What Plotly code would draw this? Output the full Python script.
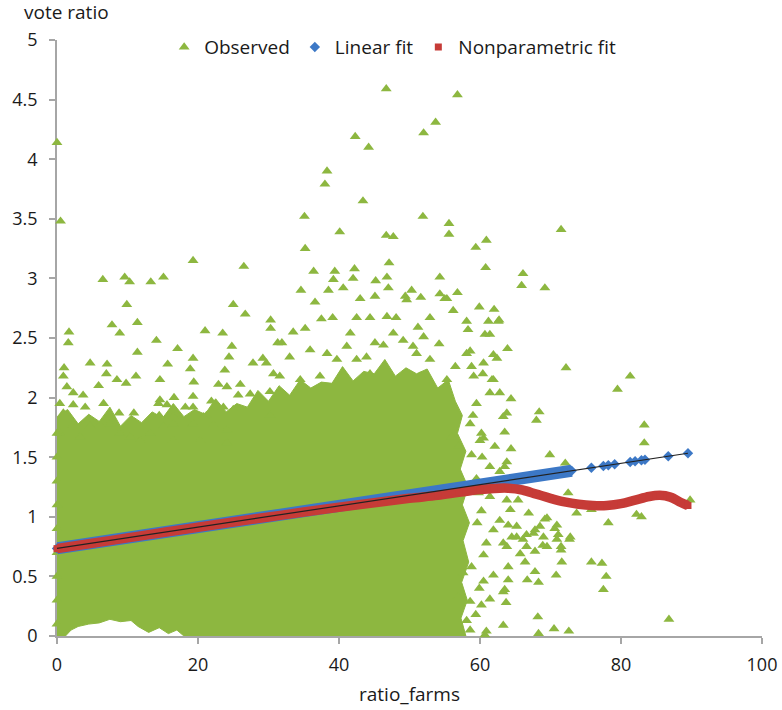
import plotly.graph_objects as go

# ---------------- data ----------------
# outline of the solid green mass formed by thousands of overlapping observations
core_x = [0, 0, 1.5, 3, 4.5, 6, 7.5, 9, 10.5, 12, 13.5, 15, 16.5, 18, 19.5, 21, 22.5, 24, 25.5, 27,
          28.5, 30, 31.5, 33, 34.5, 36, 37.5, 39, 40.5, 42, 43.5, 45, 46.5, 48, 49.5, 51, 52.5, 54,
          55.5, 56.5,
          57.5, 56.8, 58, 57.2, 58.3, 57.5, 58.5, 57.6, 58.4, 57.4, 58.2, 57.3, 58.0,
          18, 17, 15.8, 14.5, 13, 11.5, 10.5, 9, 7.5, 6, 4.5, 3, 2, 1.2, 0]
core_y = [0, 1.84, 1.90, 1.78, 1.86, 1.80, 1.92, 1.76, 1.85, 1.79, 1.88, 1.83, 1.95, 1.84, 1.90, 1.86,
          1.99, 1.88, 1.95, 1.92, 2.06, 1.97, 2.10, 2.02, 2.15, 2.08, 2.13, 2.12, 2.26, 2.14, 2.22, 2.20,
          2.32, 2.18, 2.25, 2.20, 2.24, 2.08, 2.15, 1.97,
          1.85, 1.70, 1.55, 1.40, 1.25, 1.10, 0.95, 0.80, 0.62, 0.45, 0.30, 0.15, 0.0,
          0.0, 0.05, 0.02, 0.07, 0.03, 0.08, 0.13, 0.12, 0.14, 0.11, 0.10, 0.08, 0.05, 0.0, 0]

# individual observed points visible outside / on the edge of the dense mass
obs_x = [0.0, 0.5, 19.3, 26.5, 6.5, 9.6, 10.3, 13.3, 15.1, 9.9, 25.0, 26.7, 30.3, 30.3, 7.8, 8.9, 11.4,
         1.7, 1.6, 14.1, 21.0, 23.5, 17.1, 11.4, 24.8, 24.4, 19.3, 15.7, 4.7, 7.1, 1.0, 0.9, 18.9, 23.8,
         29.2, 27.8, 31.3, 14.6, 11.2, 7.0, 8.5, 9.8, 5.9, 19.4, 22.9, 24.1, 26.0, 30.2, 30.7, 1.4, 2.3,
         3.7, 0.4, 14.6, 16.6, 19.3, 21.9, 25.7, 27.4, 6.6, 15.6, 18.2, 0.9, 8.8, 10.9, 14.5, 21.2, 23.6,
         30.2,
         2.3, 4.0, 14.4, 16.5, 19.3, 20.8, 25.0, 2.3, 4.7, 6.1, 7.5, 8.9, 10.4, 13.2, 15.1, 16.5, 19.3,
         22.2, 24.1, 0.4, 3.3, 11.8, 16.5, 20.3, 24.1,
         46.7, 56.8, 53.7, 52.0, 42.3, 44.2, 38.3, 38.0, 43.4, 35.1, 51.9, 55.6, 55.6, 40.1, 46.7, 47.7,
         35.2, 60.9, 59.4, 60.8, 47.1, 36.4, 39.4, 42.2, 54.3, 39.2, 42.0, 46.8, 45.2, 34.6, 38.5, 40.6,
         47.0, 50.3, 54.3, 56.8, 36.6, 43.0, 45.1, 49.6, 51.6, 55.0, 59.9, 62.0, 56.2, 37.5, 39.1, 42.5,
         44.4, 46.8, 48.1, 52.9, 58.1, 61.2, 62.6, 33.5, 35.2, 41.6, 47.7, 51.2, 52.0, 58.3, 60.7, 31.9,
         54.2, 63.9, 58.6, 61.9,
         35.9, 38.3, 39.7, 41.1, 42.5, 43.9, 45.1, 46.3, 49.1, 50.5, 51.0, 52.9, 56.5, 58.1, 60.5, 33.0,
         29.7, 31.6, 34.5, 37.3, 40.6, 44.4, 47.7, 51.5, 55.3, 59.1, 61.9,
         66.1, 65.9, 69.2, 71.5, 49.4, 55.3, 62.7, 61.4, 62.4, 58.8, 72.2, 81.3, 79.5, 60.4, 61.7, 64.4,
         62.8, 61.4, 68.4, 63.8,
         68.0, 83.3, 83.3, 69.9, 72.1, 63.3, 63.5, 60.2, 60.5, 58.6, 64.4, 62.1, 63.8, 63.5, 66.9, 73.7,
         75.8, 78.2, 82.2, 82.9, 89.8, 72.5, 65.4, 69.5, 68.5, 70.6, 69.0, 70.9, 72.8, 69.5,
         56.0, 57.0, 58.8, 60.0, 61.4, 62.8, 59.5, 61.4, 63.8, 64.3, 62.8, 65.2, 61.9, 64.5, 66.1, 63.3,
         60.9, 67.6, 66.6,
         69.2, 70.9, 71.1, 67.8, 66.6, 72.7, 68.9, 71.5, 71.5, 67.8, 66.4, 71.6, 75.8, 77.3, 77.9, 77.5,
         67.8, 66.7, 68.3, 70.8, 64.0, 63.5, 63.7, 63.3, 68.2, 68.3, 70.5, 72.6, 86.8, 64.0, 65.2, 63.8,
         65.7, 64.0,
         60.9, 60.7, 60.2, 61.4, 63.3, 61.9, 60.5, 58.6, 56.9, 58.1, 58.6, 57.6, 58.8,
         59.5, 59.0, 60.3, 59.8, 60.2, 59.6, 60.5, 59.9, 59.4,
         0.0, 0.0, 0.0, 0.0, 0.0, 0.0, 0.0, 0.0, 0.0]
obs_y = [4.14, 3.48, 3.15, 3.10, 2.99, 3.01, 2.97, 2.97, 3.01, 2.78, 2.78, 2.70, 2.65, 2.58, 2.61, 2.54, 2.63,
         2.55, 2.46, 2.48, 2.56, 2.54, 2.41, 2.38, 2.43, 2.34, 2.33, 2.28, 2.29, 2.28, 2.25, 2.18, 2.24, 2.23,
         2.33, 2.29, 2.46, 2.15, 2.18, 2.20, 2.15, 2.12, 2.10, 2.13, 2.11, 2.09, 2.11, 2.05, 2.20, 2.09, 2.04,
         2.02, 1.95, 1.98, 2.00, 2.01, 1.97, 2.02, 2.03, 1.95, 1.94, 1.92, 1.87, 1.87, 1.87, 1.85, 1.85, 1.92,
         1.85,
         1.94, 1.92, 1.95, 1.84, 1.92, 1.84, 1.90, 1.77, 1.76, 1.77, 1.78, 1.70, 1.67, 1.70, 1.76, 1.78, 1.78,
         1.77, 1.73, 1.70, 1.67, 1.64, 1.64, 1.64, 1.62,
         4.59, 4.54, 4.31, 4.22, 4.19, 4.10, 3.90, 3.79, 3.65, 3.52, 3.52, 3.46, 3.37, 3.39, 3.36, 3.35,
         3.25, 3.32, 3.26, 3.09, 3.13, 3.06, 3.06, 3.08, 3.01, 2.99, 3.00, 3.01, 2.98, 2.90, 2.90, 2.92,
         2.92, 2.90, 2.87, 2.88, 2.80, 2.83, 2.85, 2.82, 2.84, 2.83, 2.76, 2.74, 2.73, 2.66, 2.67, 2.67,
         2.67, 2.68, 2.67, 2.67, 2.64, 2.64, 2.64, 2.55, 2.58, 2.54, 2.54, 2.59, 2.51, 2.57, 2.53, 2.46,
         2.45, 2.41, 2.39, 2.36,
         2.40, 2.37, 2.32, 2.43, 2.32, 2.34, 2.46, 2.44, 2.48, 2.43, 2.37, 2.32, 2.26, 2.37, 2.29, 2.34,
         2.29, 2.18, 2.15, 2.18, 2.18, 2.20, 2.15, 2.18, 2.15, 2.18, 2.15,
         3.04, 2.94, 2.92, 3.41, 2.85, 2.83, 2.65, 2.53, 2.33, 2.26, 2.25, 2.18, 2.07, 2.20, 2.15, 1.99,
         2.04, 2.04, 1.88, 1.87,
         1.81, 1.77, 1.62, 1.52, 1.45, 1.84, 1.71, 1.70, 1.66, 1.78, 1.57, 1.59, 1.46, 1.42, 1.03, 1.03,
         1.06, 0.95, 1.02, 1.00, 1.14, 1.20, 1.14, 0.99, 0.92, 0.90, 0.83, 0.81, 0.83, 0.75,
         1.67, 1.59, 1.52, 1.64, 1.42, 1.38, 1.32, 1.17, 1.14, 1.06, 0.97, 0.92, 0.89, 0.83, 0.81, 0.78,
         0.78, 0.86, 0.75,
         0.98, 0.93, 0.85, 0.89, 0.85, 0.81, 0.76, 0.75, 0.72, 0.71, 0.62, 0.62, 0.62, 0.61, 0.50, 0.39,
         0.54, 0.47, 0.45, 0.51, 0.47, 0.39, 0.28, 0.09, 0.16, 0.02, 0.06, 0.04, 0.14, 0.93, 0.83, 0.75,
         0.69, 0.58,
         0.04, 0.01, 0.26, 0.31, 0.37, 0.51, 0.46, 0.29, 0.33, 0.13, 0.05, 0.53, 0.58,
         1.95, 1.85, 1.50, 1.20, 1.05, 0.95, 0.68, 0.40, 0.18,
         1.70, 1.50, 1.30, 1.10, 0.90, 0.70, 0.50, 0.30, 0.10]

# linear fit
lin_x = [0, 1, 3, 5, 8, 11, 14, 17, 20, 23, 26, 29, 32, 35, 38, 41, 44, 47, 50, 52, 54, 56, 58, 60,
         61.5, 63, 64.5, 66, 67.5, 69, 70.5, 72, 73, 75.8, 77.5, 78.2, 79.1, 81.3, 82.0, 82.9, 83.4, 86.7, 89.5]
lin_y = [0.735, 0.744, 0.762, 0.780, 0.806, 0.833, 0.860, 0.887, 0.913, 0.940, 0.967, 0.994, 1.020, 1.047,
         1.074, 1.101, 1.127, 1.154, 1.181, 1.199, 1.217, 1.235, 1.252, 1.270, 1.284, 1.297, 1.310, 1.324,
         1.337, 1.350, 1.364, 1.377, 1.386, 1.411, 1.426, 1.433, 1.441, 1.460, 1.466, 1.474, 1.479, 1.508, 1.533]
lin_dense_n = 33  # diamonds overlap into a solid band up to x = 73

# nonparametric fit
np_x = [0, 5, 10, 15, 20, 25, 30, 35, 40, 45, 50, 54, 57, 60, 62, 64, 66, 68, 70, 72, 74, 76, 78, 80,
        82, 84, 85.5, 87, 88.5, 89.5]
np_y = [0.733, 0.778, 0.823, 0.868, 0.912, 0.956, 0.998, 1.04, 1.08, 1.118, 1.155, 1.18, 1.205, 1.228,
        1.238, 1.24, 1.225, 1.19, 1.155, 1.125, 1.105, 1.095, 1.095, 1.11, 1.14, 1.17, 1.18, 1.165, 1.12, 1.095]

x_ticks = [0, 20, 40, 60, 80, 100]
y_ticks = [0, 0.5, 1, 1.5, 2, 2.5, 3, 3.5, 4, 4.5, 5]

GREEN = "#8DB740"
BLUE = "#3C78C6"
RED = "#C63B37"
AXIS = "#A6A6A6"
FONT = "Open Sans"
TXT = "#1a1a1a"

fig = go.Figure()

# solid dense mass of observations
fig.add_trace(go.Scatter(x=core_x, y=core_y, mode="lines", fill="toself", fillcolor=GREEN,
                         line=dict(color=GREEN, width=1), showlegend=False, hoverinfo="skip"))

fig.add_trace(go.Scatter(x=obs_x, y=obs_y, mode="markers", name="Observed", cliponaxis=False,
                         marker=dict(symbol="triangle-up", size=9.5, color=GREEN, line=dict(width=0))))

# linear fit: dense band + diamonds
fig.add_trace(go.Scatter(x=lin_x[:lin_dense_n], y=lin_y[:lin_dense_n], mode="lines",
                         line=dict(color=BLUE, width=12), showlegend=False, hoverinfo="skip"))
fig.add_trace(go.Scatter(x=lin_x, y=lin_y, mode="markers", name="Linear fit", cliponaxis=False,
                         marker=dict(symbol="diamond", size=8, color=BLUE, line=dict(width=0))))

# nonparametric fit: band + squares
fig.add_trace(go.Scatter(x=np_x, y=np_y, mode="lines", line=dict(color=RED, width=9.5, shape="spline"),
                         showlegend=False, hoverinfo="skip"))
fig.add_trace(go.Scatter(x=np_x, y=np_y, mode="markers", name="Nonparametric fit", cliponaxis=False,
                         marker=dict(symbol="square", size=7, color=RED, line=dict(width=0))))

# thin black fitted line
fig.add_trace(go.Scatter(x=[lin_x[0], lin_x[-1]], y=[lin_y[0], lin_y[-1]], mode="lines",
                         line=dict(color="#222222", width=1.2), showlegend=False, hoverinfo="skip"))

axis_common = dict(showline=True, linecolor=AXIS, linewidth=1.5, ticks="outside", ticklen=6,
                   tickcolor=AXIS, tickwidth=1.5, showgrid=False, zeroline=False, automargin=False,
                   tickfont=dict(family=FONT, size=18, color=TXT), layer="below traces")

fig.update_layout(
    width=782, height=710,
    margin=dict(l=57, r=20, t=40, b=74),
    paper_bgcolor="white", plot_bgcolor="white",
    font=dict(family=FONT, color=TXT),
    xaxis=dict(range=[0, 100], tickvals=x_ticks, ticklabelstandoff=6,
               title=dict(text="ratio_farms", font=dict(family=FONT, size=19, color=TXT), standoff=12),
               **axis_common),
    yaxis=dict(range=[0, 5], tickvals=y_ticks, ticklabelstandoff=8, **axis_common),
    legend=dict(orientation="h", x=0.152, xanchor="left", y=0.988, yanchor="middle",
                font=dict(family=FONT, size=19, color=TXT), bgcolor="rgba(0,0,0,0)"),
    annotations=[dict(text="vote ratio", xref="paper", yref="paper", x=-0.05, y=1.047,
                      xanchor="left", yanchor="middle", showarrow=False,
                      font=dict(family=FONT, size=19, color=TXT))],
)

# remove the browser's default 8px page margin so the figure fills the window exactly
fig.write_html("out.html", config={"displayModeBar": False},
               post_script="document.body.style.margin='0';")
